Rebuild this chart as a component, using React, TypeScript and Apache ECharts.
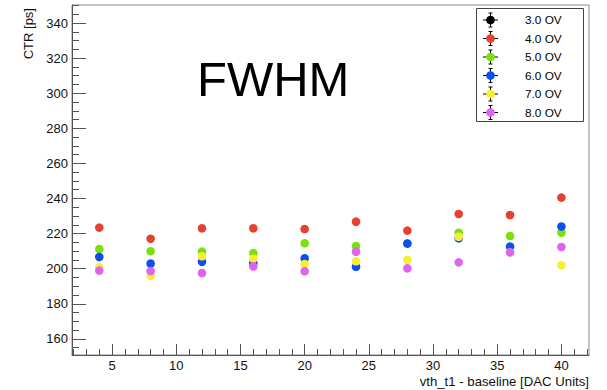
import React, { useEffect, useRef } from "react";
import * as echarts from "echarts";

// Threshold settings (x) shared by every overvoltage series
const thresholds = [4, 8, 12, 16, 20, 24, 28, 32, 36, 40];

// CTR FWHM [ps] per overvoltage
const ctr3ov: number[] = [];
const ctr4ov = [223.4, 217.1, 223.0, 223.0, 222.6, 226.8, 221.7, 231.2, 230.6, 240.5];
const ctr5ov = [211.2, 209.9, 209.7, 208.9, 214.5, 212.9, 214.3, 220.5, 218.6, 220.5];
const ctr6ov = [206.7, 202.9, 204.0, 203.1, 205.9, 201.1, 214.3, 217.3, 212.6, 224.0];
const ctr7ov = [200.8, 196.0, 207.1, 205.7, 202.7, 204.2, 205.1, 218.2, 209.3, 202.0];
const ctr8ov = [198.9, 198.7, 197.5, 201.3, 198.5, 209.7, 200.2, 203.6, 209.3, 212.4];

const seriesNames = ["3.0 OV", "4.0 OV", "5.0 OV", "6.0 OV", "7.0 OV", "8.0 OV"];
const seriesValues = [ctr3ov, ctr4ov, ctr5ov, ctr6ov, ctr7ov, ctr8ov];
const seriesColors = ["#000000", "#e8402f", "#7ce00f", "#0a4ff2", "#f7ef2e", "#df63ef"];

// Axis ticks
const xMajorTicks = [5, 10, 15, 20, 25, 30, 35, 40];
const xMinorTicks = Array.from({ length: 41 }, (_, i) => i + 2);
const yMajorTicks = [160, 180, 200, 220, 240, 260, 280, 300, 320, 340];
const yMinorTicks = Array.from({ length: 40 }, (_, i) => 155 + i * 5);

const FONT = "'Liberation Sans', Arial, Helvetica, sans-serif";
const AXIS_COLOR = "#555";

export default function App() {
  const ref = useRef<HTMLDivElement>(null);

  useEffect(() => {
    if (!ref.current) return;
    document.body.style.margin = "0";
    const chart = echarts.init(ref.current, undefined, { renderer: "svg" });

    const xMin = 1.875;
    const xMax = 42.15;
    const yMin = 150.8;
    const yMax = 350.3;

    const legendTop = 20;
    const legendStep = 18.5;
    const legendItems: any[] = [];
    seriesNames.forEach((name, i) => {
      const cy = legendTop + i * legendStep;
      legendItems.push(
        { type: "line", shape: { x1: 483, y1: cy, x2: 498, y2: cy }, style: { stroke: "#000", lineWidth: 1 } },
        { type: "line", shape: { x1: 490.5, y1: cy - 7, x2: 490.5, y2: cy + 7 }, style: { stroke: "#000", lineWidth: 1 } },
        { type: "line", shape: { x1: 488.5, y1: cy - 7, x2: 492.5, y2: cy - 7 }, style: { stroke: "#000", lineWidth: 1 } },
        { type: "line", shape: { x1: 488.5, y1: cy + 7, x2: 492.5, y2: cy + 7 }, style: { stroke: "#000", lineWidth: 1 } },
        { type: "circle", shape: { cx: 490.5, cy, r: 4.3 }, style: { fill: seriesColors[i] } },
        {
          type: "text",
          x: 525,
          y: cy,
          style: { text: name, fill: "#000", font: `11.8px ${FONT}`, verticalAlign: "middle", align: "left" },
        }
      );
    });

    const tickAxis = (min: number, max: number, values: number[], len: number, show: boolean) => ({
      type: "value",
      min,
      max,
      axisLine: { show, lineStyle: { color: AXIS_COLOR, width: 1 } },
      axisTick: {
        show: true,
        inside: true,
        length: len,
        customValues: values,
        lineStyle: { color: AXIS_COLOR, width: 1 },
      },
      splitLine: { show: false },
    });

    chart.setOption({
      animation: false,
      backgroundColor: "#fff",
      grid: {
        left: 72,
        right: 18,
        top: 5,
        bottom: 35,
        show: true,
        borderColor: "#8a8a8a",
        borderWidth: 1,
        backgroundColor: "transparent",
      },
      xAxis: [
        {
          ...tickAxis(xMin, xMax, xMajorTicks, 11, true),
          position: "bottom",
          axisLabel: {
            customValues: xMajorTicks,
            color: "#111",
            fontFamily: FONT,
            fontSize: 13,
            margin: 4,
          },
        },
        {
          ...tickAxis(xMin, xMax, xMinorTicks, 6, false),
          position: "bottom",
          axisLabel: { show: false },
        },
      ],
      yAxis: [
        {
          ...tickAxis(yMin, yMax, yMajorTicks, 14, true),
          position: "left",
          axisLabel: {
            customValues: yMajorTicks,
            color: "#111",
            fontFamily: FONT,
            fontSize: 13,
            margin: 4,
          },
        },
        {
          ...tickAxis(yMin, yMax, yMinorTicks, 7, false),
          position: "left",
          axisLabel: { show: false },
        },
      ],
      series: seriesNames.map((name, i) => ({
        name,
        type: "scatter",
        xAxisIndex: 0,
        yAxisIndex: 0,
        symbol: "circle",
        symbolSize: 8.6,
        itemStyle: { color: seriesColors[i], opacity: 1 },
        data: seriesValues[i].map((v, j) => [thresholds[j], v]),
      })),
      graphic: [
        {
          type: "text",
          x: 28,
          y: 8,
          rotation: Math.PI / 2,
          style: { text: "CTR [ps]", fill: "#111", font: `13px ${FONT}`, align: "right", verticalAlign: "middle" },
        },
        {
          type: "text",
          x: 589,
          y: 381.5,
          style: {
            text: "vth_t1 - baseline [DAC Units]",
            fill: "#111",
            font: `13.2px ${FONT}`,
            align: "right",
            verticalAlign: "middle",
          },
        },
        {
          type: "text",
          x: 197,
          y: 79,
          style: { text: "FWHM", fill: "#000", font: `49px ${FONT}`, align: "left", verticalAlign: "middle" },
        },
        {
          type: "rect",
          shape: { x: 476.5, y: 8.5, width: 107, height: 113 },
          style: { fill: "#fff", stroke: "#444", lineWidth: 1 },
        },
        ...legendItems,
      ],
    });

    return () => chart.dispose();
  }, []);

  return <div ref={ref} style={{ width: 607, height: 390 }} />;
}
